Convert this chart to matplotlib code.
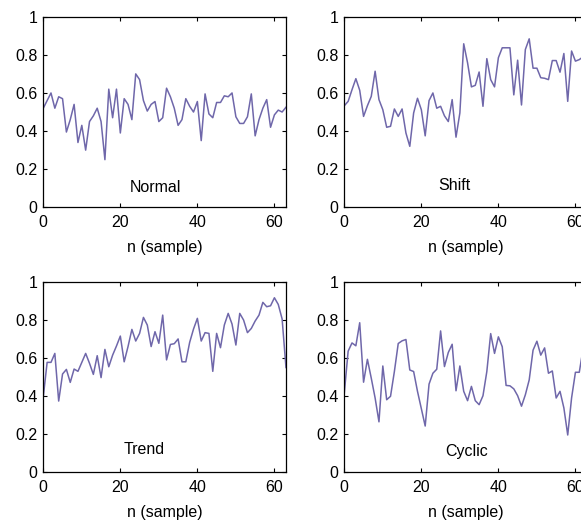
import numpy as np
import matplotlib
matplotlib.use('Agg')
import matplotlib.pyplot as plt

plt.rcParams['font.family'] = ['Liberation Sans', 'DejaVu Sans']

# samples n = 0..63
normal = [0.52, 0.56, 0.60, 0.52, 0.58, 0.57, 0.395, 0.46, 0.54, 0.34,
          0.43, 0.30, 0.45, 0.48, 0.52, 0.45, 0.25, 0.62, 0.47, 0.62,
          0.39, 0.57, 0.54, 0.46, 0.70, 0.67, 0.56, 0.505, 0.54, 0.555,
          0.45, 0.47, 0.625, 0.58, 0.52, 0.43, 0.46, 0.57, 0.53, 0.50,
          0.555, 0.35, 0.595, 0.49, 0.47, 0.55, 0.55, 0.585, 0.58, 0.60,
          0.475, 0.44, 0.44, 0.475, 0.595, 0.375, 0.46, 0.52, 0.565, 0.42,
          0.485, 0.51, 0.50, 0.525]

shift = [0.533, 0.556, 0.617, 0.675, 0.614, 0.477, 0.533, 0.582, 0.714, 0.565,
         0.512, 0.42, 0.425, 0.516, 0.477, 0.516, 0.39, 0.32, 0.495, 0.572,
         0.512, 0.375, 0.56, 0.60, 0.52, 0.53, 0.48, 0.45, 0.565, 0.368,
         0.495, 0.858, 0.758, 0.632, 0.64, 0.71, 0.53, 0.78, 0.67, 0.632,
         0.785, 0.837, 0.837, 0.837, 0.59, 0.772, 0.537, 0.828, 0.884, 0.73,
         0.73, 0.68, 0.677, 0.67, 0.77, 0.77, 0.709, 0.807, 0.556, 0.82,
         0.767, 0.775, 0.79, 0.78]

trend = [0.397, 0.577, 0.577, 0.624, 0.374, 0.516, 0.54, 0.472, 0.542, 0.53,
         0.577, 0.624, 0.572, 0.514, 0.612, 0.497, 0.645, 0.554, 0.615, 0.663,
         0.715, 0.58, 0.66, 0.75, 0.689, 0.729, 0.813, 0.773, 0.66, 0.738,
         0.677, 0.825, 0.59, 0.671, 0.675, 0.70, 0.58, 0.58, 0.682, 0.752,
         0.808, 0.689, 0.733, 0.729, 0.53, 0.729, 0.654, 0.773, 0.834, 0.778,
         0.668, 0.834, 0.799, 0.733, 0.755, 0.794, 0.825, 0.892, 0.869, 0.874,
         0.916, 0.881, 0.805, 0.55]

cyclic = [0.416, 0.636, 0.679, 0.664, 0.785, 0.473, 0.593, 0.494, 0.39, 0.265,
          0.558, 0.381, 0.399, 0.529, 0.676, 0.69, 0.697, 0.537, 0.529, 0.425,
          0.334, 0.243, 0.463, 0.52, 0.541, 0.742, 0.555, 0.629, 0.672, 0.428,
          0.558, 0.425, 0.376, 0.451, 0.376, 0.355, 0.402, 0.529, 0.728, 0.624,
          0.711, 0.659, 0.456, 0.454, 0.438, 0.402, 0.347, 0.407, 0.485, 0.641,
          0.688, 0.615, 0.653, 0.52, 0.532, 0.39, 0.425, 0.338, 0.196, 0.39,
          0.525, 0.525, 0.65, 0.62]

panel_names = ['Normal', 'Shift', 'Trend', 'Cyclic']
panel_data = [normal, shift, trend, cyclic]
label_pos = [(29.1, 0.103), (28.7, 0.117), (26.3, 0.122), (31.7, 0.109)]
xtick_vals = [0, 20, 40, 60]
ytick_vals = [0, 0.2, 0.4, 0.6, 0.8, 1]
ytick_text = ['0', '0.2', '0.4', '0.6', '0.8', '1']

line_color = '#6f67aa'

fig = plt.figure(figsize=(5.81, 5.21), dpi=100)

# axes boxes in figure fractions; the right column runs past the edge
# (the reference is cropped there too)
w, h = 0.4177, 0.3658
boxes = [(0.0745, 0.6021), (0.5926, 0.6021),
         (0.0745, 0.0934), (0.5926, 0.0934)]

for (left, bottom), name, vals, (tx, ty) in zip(boxes, panel_names, panel_data, label_pos):
    ax = fig.add_axes([left, bottom, w, h])
    n = np.arange(len(vals))
    ax.plot(n, vals, color=line_color, lw=1.1)
    ax.set_xlim(0, 63)
    ax.set_ylim(0, 1)
    ax.set_xticks(xtick_vals)
    ax.set_xticklabels([str(v) for v in xtick_vals])
    ax.set_yticks(ytick_vals)
    ax.set_yticklabels(ytick_text)
    ax.tick_params(direction='in', length=3, width=0.8, top=True, right=True,
                   labelsize=11.5, colors='black')
    ax.tick_params(axis='x', pad=5.5)
    ax.tick_params(axis='y', pad=4)
    for sp in ax.spines.values():
        sp.set_linewidth(0.9)
    ax.set_xlabel('n (sample)', fontsize=11.5, labelpad=7)
    ax.text(tx, ty, name, fontsize=11.5, ha='center', va='center')

fig.savefig('out.png', dpi=100)
